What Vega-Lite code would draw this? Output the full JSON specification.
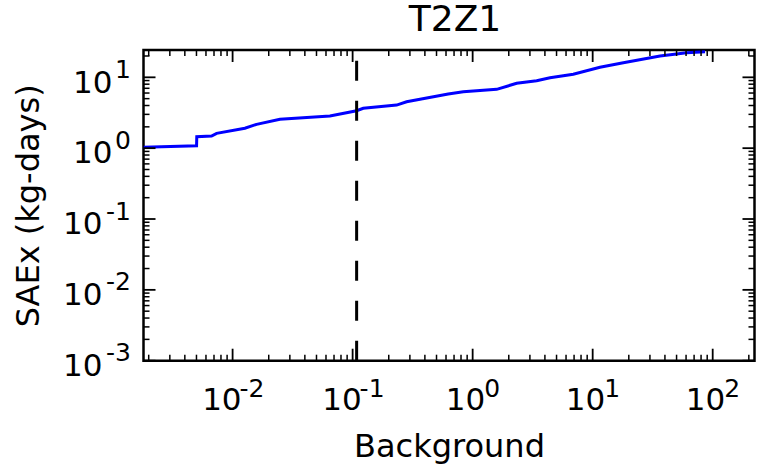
{
  "$schema": "https://vega.github.io/schema/vega-lite/v6.json",
  "autosize": {"type": "none"},
  "padding": {"left": 143.5, "top": 50, "right": 3.5, "bottom": 108.3},
  "width": 611,
  "height": 310.7,
  "background": "white",
  "title": {"text": "T2Z1", "font": "DejaVu Sans", "fontSize": 36, "fontWeight": "normal", "color": "black", "offset": 10, "dx": 6},
  "config": {"view": {"stroke": "black", "strokeWidth": 2.5}, "font": "DejaVu Sans",
    "axis": {"ticks": false, "tickSize": 0, "domain": false, "grid": false, "title": null, "labelColor": "black", "labelFont": "DejaVu Sans", "labelFlush": false, "labelOverlap": false}},
  "datasets": {
    "curve": [
      {"bg": 0.00181, "saex": 1.03},
      {"bg": 0.00501, "saex": 1.08},
      {"bg": 0.00503, "saex": 1.45},
      {"bg": 0.00668, "saex": 1.48},
      {"bg": 0.00736, "saex": 1.62},
      {"bg": 0.01266, "saex": 1.91},
      {"bg": 0.01585, "saex": 2.17},
      {"bg": 0.0248, "saex": 2.55},
      {"bg": 0.0647, "saex": 2.84},
      {"bg": 0.108, "saex": 3.38},
      {"bg": 0.1226, "saex": 3.65},
      {"bg": 0.2326, "saex": 4.06},
      {"bg": 0.2818, "saex": 4.52},
      {"bg": 0.626, "saex": 5.81},
      {"bg": 0.835, "saex": 6.26},
      {"bg": 1.585, "saex": 6.77},
      {"bg": 2.327, "saex": 8.23},
      {"bg": 3.415, "saex": 8.95},
      {"bg": 4.41, "saex": 9.87},
      {"bg": 6.89, "saex": 11.03},
      {"bg": 11.5, "saex": 13.84},
      {"bg": 18.0, "saex": 16.07},
      {"bg": 36.4, "saex": 19.98},
      {"bg": 60.7, "saex": 22.2},
      {"bg": 86.3, "saex": 22.97}
    ],
    "threshold": [{"bg": 0.108}],
    "xticks": [
      {"v": 0.002, "major": false}, {"v": 0.003, "major": false}, {"v": 0.004, "major": false}, {"v": 0.005, "major": false},
      {"v": 0.006, "major": false}, {"v": 0.007, "major": false}, {"v": 0.008, "major": false}, {"v": 0.009, "major": false},
      {"v": 0.01, "major": true},
      {"v": 0.02, "major": false}, {"v": 0.03, "major": false}, {"v": 0.04, "major": false}, {"v": 0.05, "major": false},
      {"v": 0.06, "major": false}, {"v": 0.07, "major": false}, {"v": 0.08, "major": false}, {"v": 0.09, "major": false},
      {"v": 0.1, "major": true},
      {"v": 0.2, "major": false}, {"v": 0.3, "major": false}, {"v": 0.4, "major": false}, {"v": 0.5, "major": false},
      {"v": 0.6, "major": false}, {"v": 0.7, "major": false}, {"v": 0.8, "major": false}, {"v": 0.9, "major": false},
      {"v": 1, "major": true},
      {"v": 2, "major": false}, {"v": 3, "major": false}, {"v": 4, "major": false}, {"v": 5, "major": false},
      {"v": 6, "major": false}, {"v": 7, "major": false}, {"v": 8, "major": false}, {"v": 9, "major": false},
      {"v": 10, "major": true},
      {"v": 20, "major": false}, {"v": 30, "major": false}, {"v": 40, "major": false}, {"v": 50, "major": false},
      {"v": 60, "major": false}, {"v": 70, "major": false}, {"v": 80, "major": false}, {"v": 90, "major": false},
      {"v": 100, "major": true},
      {"v": 200, "major": false}
    ],
    "yticks": [
      {"v": 0.001, "major": true},
      {"v": 0.002, "major": false}, {"v": 0.003, "major": false}, {"v": 0.004, "major": false}, {"v": 0.005, "major": false},
      {"v": 0.006, "major": false}, {"v": 0.007, "major": false}, {"v": 0.008, "major": false}, {"v": 0.009, "major": false},
      {"v": 0.01, "major": true},
      {"v": 0.02, "major": false}, {"v": 0.03, "major": false}, {"v": 0.04, "major": false}, {"v": 0.05, "major": false},
      {"v": 0.06, "major": false}, {"v": 0.07, "major": false}, {"v": 0.08, "major": false}, {"v": 0.09, "major": false},
      {"v": 0.1, "major": true},
      {"v": 0.2, "major": false}, {"v": 0.3, "major": false}, {"v": 0.4, "major": false}, {"v": 0.5, "major": false},
      {"v": 0.6, "major": false}, {"v": 0.7, "major": false}, {"v": 0.8, "major": false}, {"v": 0.9, "major": false},
      {"v": 1, "major": true},
      {"v": 2, "major": false}, {"v": 3, "major": false}, {"v": 4, "major": false}, {"v": 5, "major": false},
      {"v": 6, "major": false}, {"v": 7, "major": false}, {"v": 8, "major": false}, {"v": 9, "major": false},
      {"v": 10, "major": true},
      {"v": 20, "major": false}
    ]
  },
  "resolve": {"axis": {"x": "independent", "y": "independent"}},
  "layer": [
    {
      "data": {"name": "curve"},
      "mark": {"type": "line", "color": "#0000ff", "strokeWidth": 3, "clip": true},
      "encoding": {
        "x": {"field": "bg", "type": "quantitative", "scale": {"type": "log", "domain": [0.00181, 223], "nice": false},
          "axis": {"orient": "bottom", "values": [1, 10, 100], "labelExpr": "'10'", "labelFontSize": 31,
            "labelAlign": "right", "labelBaseline": "top", "labelPadding": 25, "labelOffset": 12,
            "title": "Background", "titleFont": "DejaVu Sans", "titleFontSize": 32, "titleFontWeight": "normal", "titleColor": "black",
            "titleBaseline": "alphabetic", "titleAlign": "center", "titleX": 305.5, "titleY": 96}},
        "y": {"field": "saex", "type": "quantitative", "scale": {"type": "log", "domain": [0.001, 24.3], "nice": false},
          "axis": {"orient": "left", "values": [1, 10], "labelExpr": "'10'", "labelFontSize": 31,
            "labelAlign": "right", "labelBaseline": "middle", "labelPadding": 31.5, "labelOffset": 5.8,
            "title": "SAEx (kg-days)", "titleFont": "DejaVu Sans", "titleFontSize": 32, "titleFontWeight": "normal", "titleColor": "black",
            "titleBaseline": "alphabetic", "titleAlign": "center", "titleAngle": 270, "titleX": -105, "titleY": 155.35}}
      }
    },
    {
      "data": {"name": "threshold"},
      "mark": {"type": "rule", "color": "black", "strokeWidth": 3, "strokeDash": [20, 20]},
      "encoding": {
        "x": {"field": "bg", "type": "quantitative", "scale": {"type": "log", "domain": [0.00181, 223], "nice": false},
          "axis": {"orient": "bottom", "values": [0.01, 0.1], "labelExpr": "'10'", "labelFontSize": 31,
            "labelAlign": "right", "labelBaseline": "top", "labelPadding": 25, "labelOffset": 8.5}},
        "y": {"datum": 0.001, "type": "quantitative", "scale": {"type": "log", "domain": [0.001, 24.3], "nice": false},
          "axis": {"orient": "left", "values": [0.001, 0.01, 0.1], "labelExpr": "'10'", "labelFontSize": 31,
            "labelAlign": "right", "labelBaseline": "middle", "labelPadding": 41.5, "labelOffset": 5.8}},
        "y2": {"datum": 24.3}
      }
    },
    {
      "data": {"name": "xticks"},
      "transform": [{"filter": "datum.major"}],
      "mark": {"type": "rule", "color": "black", "strokeWidth": 1.8},
      "encoding": {
        "x": {"field": "v", "type": "quantitative", "scale": {"type": "log", "domain": [0.00181, 223], "nice": false},
          "axis": {"orient": "bottom", "values": [1, 10, 100],
            "labelExpr": "datum.value < 5 ? '0' : datum.value < 50 ? '1' : '2'", "labelFontSize": 25,
            "labelAlign": "left", "labelBaseline": "top", "labelPadding": 15.6, "labelOffset": 11}},
        "y": {"datum": 0.001, "type": "quantitative", "scale": {"type": "log", "domain": [0.001, 24.3], "nice": false},
          "axis": {"orient": "left", "values": [0.001, 0.01, 0.1, 1, 10],
            "labelExpr": "datum.value < 0.005 ? '-3' : datum.value < 0.05 ? '-2' : datum.value < 0.5 ? '-1' : datum.value < 5 ? '0' : '1'", "labelFontSize": 25,
            "labelAlign": "right", "labelBaseline": "middle", "labelPadding": 13, "labelOffset": -7.9}},
        "y2": {"datum": 0.001476}
      }
    },
    {
      "data": {"name": "xticks"},
      "transform": [{"filter": "!datum.major"}],
      "mark": {"type": "rule", "color": "black", "strokeWidth": 1.5},
      "encoding": {
        "x": {"field": "v", "type": "quantitative", "scale": {"type": "log", "domain": [0.00181, 223], "nice": false},
          "axis": {"orient": "bottom", "values": [0.01, 0.1],
            "labelExpr": "datum.value < 0.05 ? '-2' : '-1'", "labelFontSize": 25,
            "labelAlign": "left", "labelBaseline": "top", "labelPadding": 15.6, "labelOffset": 6.5}},
        "y": {"datum": 0.001, "type": "quantitative", "scale": {"type": "log", "domain": [0.001, 24.3], "nice": false}, "axis": null},
        "y2": {"datum": 0.0012155}
      }
    },
    {
      "data": {"name": "xticks"},
      "transform": [{"filter": "datum.major"}],
      "mark": {"type": "rule", "color": "black", "strokeWidth": 1.8},
      "encoding": {
        "x": {"field": "v", "type": "quantitative", "scale": {"type": "log", "domain": [0.00181, 223], "nice": false}, "axis": null},
        "y": {"datum": 24.3, "type": "quantitative", "scale": {"type": "log", "domain": [0.001, 24.3], "nice": false}, "axis": null},
        "y2": {"datum": 16.46}
      }
    },
    {
      "data": {"name": "xticks"},
      "transform": [{"filter": "!datum.major"}],
      "mark": {"type": "rule", "color": "black", "strokeWidth": 1.5},
      "encoding": {
        "x": {"field": "v", "type": "quantitative", "scale": {"type": "log", "domain": [0.00181, 223], "nice": false}, "axis": null},
        "y": {"datum": 24.3, "type": "quantitative", "scale": {"type": "log", "domain": [0.001, 24.3], "nice": false}, "axis": null},
        "y2": {"datum": 19.99}
      }
    },
    {
      "data": {"name": "yticks"},
      "transform": [{"filter": "datum.major"}],
      "mark": {"type": "rule", "color": "black", "strokeWidth": 1.8},
      "encoding": {
        "y": {"field": "v", "type": "quantitative", "scale": {"type": "log", "domain": [0.001, 24.3], "nice": false}, "axis": null},
        "x": {"datum": 0.00181, "type": "quantitative", "scale": {"type": "log", "domain": [0.00181, 223], "nice": false}, "axis": null},
        "x2": {"datum": 0.002279}
      }
    },
    {
      "data": {"name": "yticks"},
      "transform": [{"filter": "!datum.major"}],
      "mark": {"type": "rule", "color": "black", "strokeWidth": 1.5},
      "encoding": {
        "y": {"field": "v", "type": "quantitative", "scale": {"type": "log", "domain": [0.001, 24.3], "nice": false}, "axis": null},
        "x": {"datum": 0.00181, "type": "quantitative", "scale": {"type": "log", "domain": [0.00181, 223], "nice": false}, "axis": null},
        "x2": {"datum": 0.002031}
      }
    },
    {
      "data": {"name": "yticks"},
      "transform": [{"filter": "datum.major"}],
      "mark": {"type": "rule", "color": "black", "strokeWidth": 1.8},
      "encoding": {
        "y": {"field": "v", "type": "quantitative", "scale": {"type": "log", "domain": [0.001, 24.3], "nice": false}, "axis": null},
        "x": {"datum": 223, "type": "quantitative", "scale": {"type": "log", "domain": [0.00181, 223], "nice": false}, "axis": null},
        "x2": {"datum": 177.1}
      }
    },
    {
      "data": {"name": "yticks"},
      "transform": [{"filter": "!datum.major"}],
      "mark": {"type": "rule", "color": "black", "strokeWidth": 1.5},
      "encoding": {
        "y": {"field": "v", "type": "quantitative", "scale": {"type": "log", "domain": [0.001, 24.3], "nice": false}, "axis": null},
        "x": {"datum": 223, "type": "quantitative", "scale": {"type": "log", "domain": [0.00181, 223], "nice": false}, "axis": null},
        "x2": {"datum": 198.7}
      }
    }
  ]
}
